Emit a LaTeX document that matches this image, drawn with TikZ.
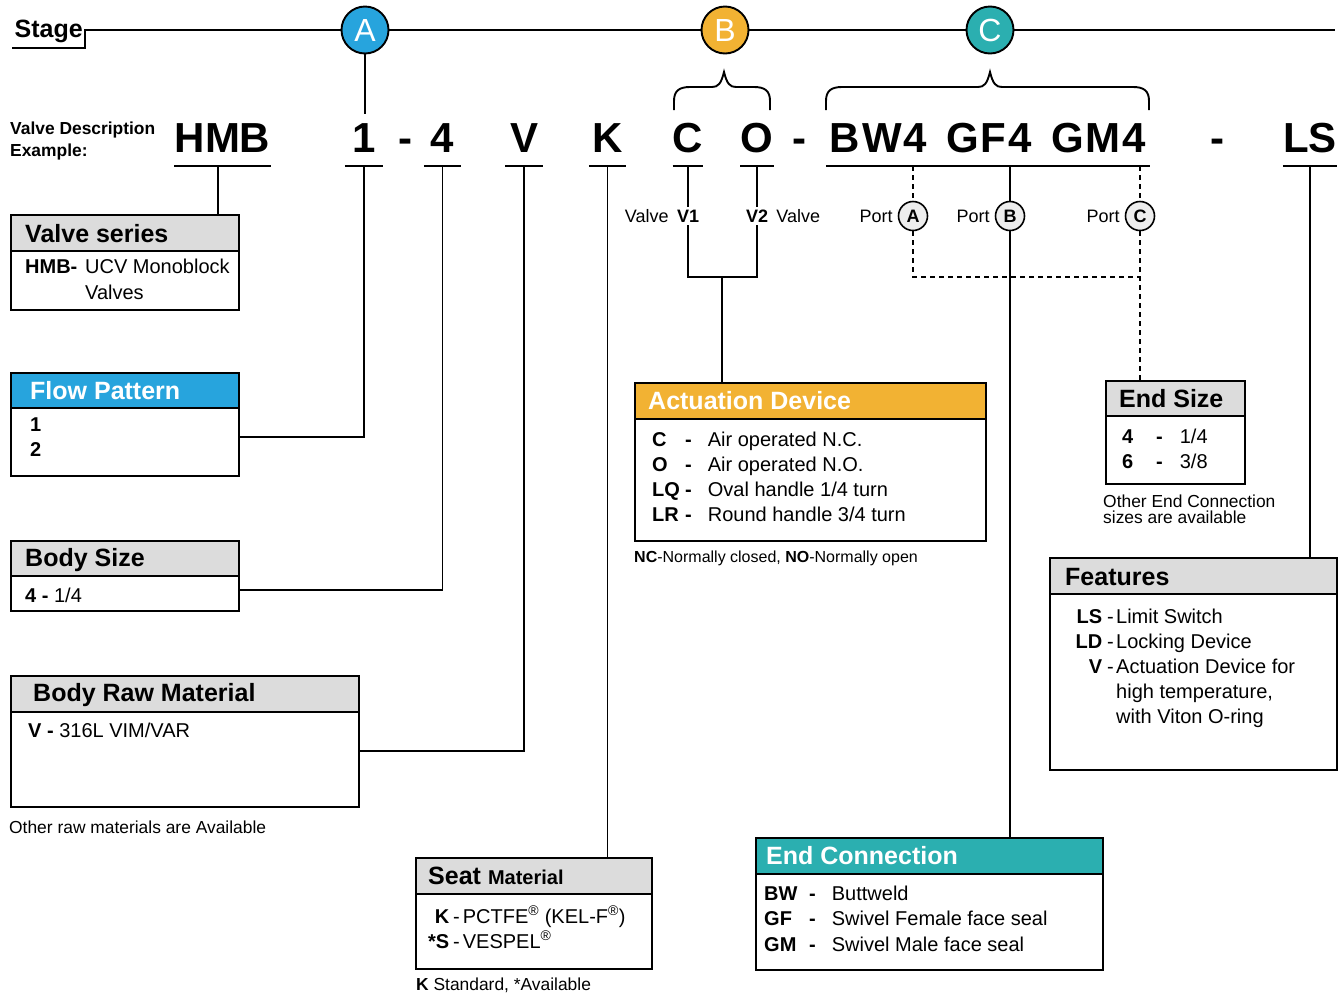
\documentclass[tikz,border=0pt]{standalone}
\usepackage{fontspec}
\setmainfont{Liberation Sans}
\usepackage{tikz}
\usetikzlibrary{positioning}
\definecolor{hdrgray}{HTML}{DCDCDC}
\definecolor{portgray}{HTML}{EDEDED}
\definecolor{stageblue}{HTML}{27A4DD}
\definecolor{stageorange}{HTML}{F2B233}
\definecolor{stageteal}{HTML}{2BAFB0}
\newcommand{\codefont}{\fontsize{42}{42}\selectfont\bfseries}
\newcommand{\dotfont}{\fontsize{32}{32}\selectfont}
\newcommand{\portfont}{\fontsize{18}{18}\selectfont}
\newcommand{\titlefont}{\fontsize{25}{25}\selectfont\bfseries}
\newcommand{\bodyfont}{\fontsize{20}{20}\selectfont}
\newcommand{\notefont}{\fontsize{17.4}{17.4}\selectfont}

\begin{document}
\begin{tikzpicture}[x=1pt, y=-1pt,
    link/.style={line width=1.9pt},
    dlink/.style={link, dash pattern=on 5pt off 4pt},
    frame/.style={draw, line width=1.9pt, anchor=north west, inner sep=0},
    code/.style={anchor=base, inner sep=0, text depth=14pt, font=\codefont},
    stagedot/.style={circle, draw, line width=1.9pt, minimum size=47pt, inner sep=0,
                     text=white, font=\dotfont},
    portdot/.style={circle, draw, line width=1.6pt, fill=portgray, minimum size=29pt,
                    inner sep=0, font=\portfont\bfseries},
    plab/.style={inner sep=3pt, font=\portfont},
    title/.style={anchor=base west, inner sep=0, font=\titlefont},
    txt/.style={anchor=base west, inner sep=0, font=\bodyfont},
    note/.style={anchor=base west, inner sep=0, font=\notefont},
]
    \useasboundingbox (0,0) rectangle (1343,994);

    % stage line
    \node[anchor=base west, inner sep=0, text depth=11pt, minimum width=73pt, font=\titlefont] (stage) at (12,37) {Stage};
    \node[stagedot, fill=stageblue] (dotA) at (365,30) {A};
    \node[stagedot, fill=stageorange] (dotB) at (725,30) {B};
    \node[stagedot, fill=stageteal] (dotC) at (990,30) {C};
    \coordinate (stageEnd) at (1335,30);
    \draw[link] (stage.south west) -- (stage.south east) |- (dotA.west);
    \draw[link] (dotA.east) -- (dotB.west);
    \draw[link] (dotB.east) -- (dotC.west);
    \draw[link] (dotC.east) -- (stageEnd);

    % braces
    \draw[link] (674,110) -- (674,101) .. controls (674,91) and (679,87) .. (690,87) -- (712,87)
        .. controls (718,87) and (721,84) .. (724,72)
        .. controls (727,84) and (730,87) .. (736,87) -- (754,87)
        .. controls (765,87) and (770,91) .. (770,101) -- (770,110);
    \draw[link] (826,110) -- (826,101) .. controls (826,91) and (831,87) .. (842,87) -- (978,87)
        .. controls (984,87) and (987,84) .. (990,72)
        .. controls (993,84) and (996,87) .. (1002,87) -- (1133,87)
        .. controls (1144,87) and (1149,91) .. (1149,101) -- (1149,110);

    % description code
    \node[note, font=\notefont\bfseries] (descA) at (10,134) {Valve Description};
    \node[note, font=\notefont\bfseries] (descB) at (10,156) {Example:};
    \node[code, minimum width=95pt] (hmb) at (222.5,152) {HMB};
    \node[code, minimum width=38pt] (one) at (364,152) {1};
    \node[code] (dashA) at (405,152) {-};
    \node[code, minimum width=37pt] (four) at (442.5,152) {4};
    \node[code, minimum width=37pt] (matV) at (524,152) {V};
    \node[code, minimum width=37pt] (seatK) at (607.5,152) {K};
    \node[code, minimum width=30pt] (actC) at (688,152) {C};
    \node[code, minimum width=28pt] (actO) at (757,152) {O};
    \node[code] (dashB) at (799,152) {-};
    \node[code, minimum width=324pt] (ends) at (988,152) {\addfontfeature{LetterSpace=5}BW4\hspace{19pt}GF4\hspace{19pt}GM4};
    \node[code] (dashC) at (1217,152) {-};
    \node[code, minimum width=50pt] (feat) at (1310,152) {LS};

    \draw[link] (hmb.south west) -- (hmb.south east);
    \draw[link] (one.south west) -- (one.south east);
    \draw[link] (four.south west) -- (four.south east);
    \draw[link] (matV.south west) -- (matV.south east);
    \draw[link] (seatK.south west) -- (seatK.south east);
    \draw[link] (actC.south west) -- (actC.south east);
    \draw[link] (actO.south west) -- (actO.south east);
    \draw[link] (ends.south west) -- (ends.south east);
    \draw[link] (feat.south west) -- (feat.south east);

    % valves and ports
    \node[plab, font=\portfont\bfseries] (v1) at (688,216) {V1};
    \node[plab, left=2pt of v1] (v1lab) {Valve};
    \node[plab, font=\portfont\bfseries] (v2) at (757,216) {V2};
    \node[plab, right=2pt of v2] (v2lab) {Valve};
    \node[portdot] (portA) at (913,216) {A};
    \node[portdot] (portB) at (1010,216) {B};
    \node[portdot] (portC) at (1140,216) {C};
    \node[plab, left=2pt of portA] (portAlab) {Port};
    \node[plab, left=2pt of portB] (portBlab) {Port};
    \node[plab, left=2pt of portC] (portClab) {Port};

    % valve series
    \node[frame, minimum width=228pt, minimum height=95pt] (seriesBox) at (10,214) {};
    \node[frame, fill=hdrgray, minimum width=228pt, minimum height=36pt] (seriesHead) at (10,214) {};
    \node[title] (seriesTitle) at (25,242) {Valve series};
    \node[txt, font=\bodyfont\bfseries] (seriesKey) at (25,273) {HMB-};
    \node[txt] (seriesTxtA) at (85,273) {UCV Monoblock};
    \node[txt] (seriesTxtB) at (85,299) {Valves};

    % flow pattern
    \node[frame, minimum width=228pt, minimum height=103pt] (flowBox) at (10,372) {};
    \node[frame, fill=stageblue, minimum width=228pt, minimum height=35pt] (flowHead) at (10,372) {};
    \node[title, text=white] (flowTitle) at (30,399) {Flow Pattern};
    \node[txt, font=\bodyfont\bfseries] (flowOne) at (30,431) {1};
    \node[txt, font=\bodyfont\bfseries] (flowTwo) at (30,456) {2};

    % body size
    \node[frame, minimum width=228pt, minimum height=70pt] (sizeBox) at (10,540) {};
    \node[frame, fill=hdrgray, minimum width=228pt, minimum height=35pt] (sizeHead) at (10,540) {};
    \node[title] (sizeTitle) at (25,566) {Body Size};
    \node[txt] (sizeTxt) at (25,602) {\textbf{4 -} 1/4};

    % body raw material
    \node[frame, minimum width=348pt, minimum height=131pt] (matBox) at (10,675) {};
    \node[frame, fill=hdrgray, minimum width=348pt, minimum height=36pt] (matHead) at (10,675) {};
    \node[title] (matTitle) at (33,701) {Body Raw Material};
    \node[txt] (matTxt) at (28,737) {\textbf{V -} 316L VIM/VAR};
    \node[note] (matNote) at (9,833) {Other raw materials are Available};

    % seat material
    \node[frame, minimum width=236pt, minimum height=111pt] (seatBox) at (415,857) {};
    \node[frame, fill=hdrgray, minimum width=236pt, minimum height=36pt] (seatHead) at (415,857) {};
    \node[title] (seatTitle) at (428,884) {Seat\hspace{7pt}{\fontsize{20}{20}\selectfont Material}};
    \node[txt] (seatTxtA) at (449,923) {\makebox[0pt][r]{\textbf{K}}\hspace{4pt}-\hspace{3pt}PCTFE\textsuperscript{®} (KEL-F\textsuperscript{®})};
    \node[txt] (seatTxtB) at (449,948) {\makebox[0pt][r]{\textbf{*S}}\hspace{4pt}-\hspace{3pt}VESPEL\textsuperscript{®}};
    \node[note] (seatNote) at (416,990) {\textbf{K} Standard, *Available};

    % actuation device
    \node[frame, minimum width=351pt, minimum height=158pt] (actBox) at (634,382) {};
    \node[frame, fill=stageorange, minimum width=351pt, minimum height=36pt] (actHead) at (634,382) {};
    \node[title, text=white] (actTitle) at (648,409) {Actuation Device};
    \node[txt] (actRowA) at (652,446) {\textbf{\makebox[33pt][l]{C}-}\hspace{16pt}Air operated N.C.};
    \node[txt] (actRowB) at (652,471) {\textbf{\makebox[33pt][l]{O}-}\hspace{16pt}Air operated N.O.};
    \node[txt] (actRowC) at (652,496) {\textbf{\makebox[33pt][l]{LQ}-}\hspace{16pt}Oval handle 1/4 turn};
    \node[txt] (actRowD) at (652,521) {\textbf{\makebox[33pt][l]{LR}-}\hspace{16pt}Round handle 3/4 turn};
    \node[note, font=\fontsize{16}{16}\selectfont] (actNote) at (634,562) {\textbf{NC}-Normally closed, \textbf{NO}-Normally open};

    % end size
    \node[frame, minimum width=139pt, minimum height=103pt] (endSizeBox) at (1105,380) {};
    \node[frame, fill=hdrgray, minimum width=139pt, minimum height=35pt] (endSizeHead) at (1105,380) {};
    \node[title] (endSizeTitle) at (1119,407) {End Size};
    \node[txt] (endSizeA) at (1122,443) {\textbf{\makebox[34pt][l]{4}-}\hspace{17pt}1/4};
    \node[txt] (endSizeB) at (1122,468) {\textbf{\makebox[34pt][l]{6}-}\hspace{17pt}3/8};
    \node[note] (endNoteA) at (1103,507) {Other End Connection};
    \node[note] (endNoteB) at (1103,523) {sizes are available};

    % features
    \node[frame, minimum width=287pt, minimum height=212pt] (featBox) at (1049,557) {};
    \node[frame, fill=hdrgray, minimum width=287pt, minimum height=36pt] (featHead) at (1049,557) {};
    \node[title] (featTitle) at (1065,585) {Features};
    \node[txt] (featA) at (1102,623) {\makebox[0pt][r]{\textbf{LS}}\hspace{5pt}-\hspace{2.3pt}Limit Switch};
    \node[txt] (featB) at (1102,648) {\makebox[0pt][r]{\textbf{LD}}\hspace{5pt}-\hspace{2.3pt}Locking Device};
    \node[txt] (featC) at (1102,673) {\makebox[0pt][r]{\textbf{V}}\hspace{5pt}-\hspace{2.3pt}Actuation Device for};
    \node[txt] (featD) at (1116,698) {high temperature,};
    \node[txt] (featE) at (1116,723) {with Viton O-ring};

    % end connection
    \node[frame, minimum width=347pt, minimum height=132pt] (econBox) at (755,837) {};
    \node[frame, fill=stageteal, minimum width=347pt, minimum height=36pt] (econHead) at (755,837) {};
    \node[title, text=white] (econTitle) at (766,864) {End Connection};
    \node[txt] (econA) at (764,900) {\textbf{\makebox[45pt][l]{BW}-}\hspace{16pt}Buttweld};
    \node[txt] (econB) at (764,925) {\textbf{\makebox[45pt][l]{GF}-}\hspace{16pt}Swivel Female face seal};
    \node[txt] (econC) at (764,951) {\textbf{\makebox[45pt][l]{GM}-}\hspace{16pt}Swivel Male face seal};

    % connectors
    \coordinate (hmbDrop) at ([xshift=-4.5pt]hmb.south);
    \coordinate (jFlow) at (0,437);
    \coordinate (jSize) at (0,590);
    \coordinate (jMat) at (0,751);
    \coordinate (jAct) at (722,277);
    \coordinate (jPort) at (0,277);
    \coordinate (dropA) at ([yshift=9pt]one.north);
    \draw[link] (dotA.south) -- (dotA.south |- dropA);
    \draw[link] (hmbDrop) -- (hmbDrop |- seriesBox.north);
    \draw[link] (one.south) |- (flowBox.east |- jFlow);
    \draw[link] (four.south) |- (sizeBox.east |- jSize);
    \draw[link] (matV.south) |- (matBox.east |- jMat);
    \draw[link] (seatK.south) -- (seatK.south |- seatBox.north);
    \draw[link] (actC.south) -- (v1.north);
    \draw[link] (actO.south) -- (v2.north);
    \draw[link] (v1.south) |- (v2 |- jAct) -- (v2.south);
    \draw[link] (jAct) -- (jAct |- actBox.north);
    \draw[dlink] (ends.south -| portA) -- (portA.north);
    \draw[dlink] (portA.south) |- (portC |- jPort);
    \draw[dlink] (ends.south -| portC) -- (portC.north);
    \draw[dlink] (portC.south) -- (portC |- endSizeBox.north);
    \draw[link] (ends.south -| portB) -- (portB.north);
    \draw[link] (portB.south) -- (portB |- econBox.north);
    \draw[link] (feat.south) -- (feat.south |- featBox.north);
\end{tikzpicture}
\end{document}
